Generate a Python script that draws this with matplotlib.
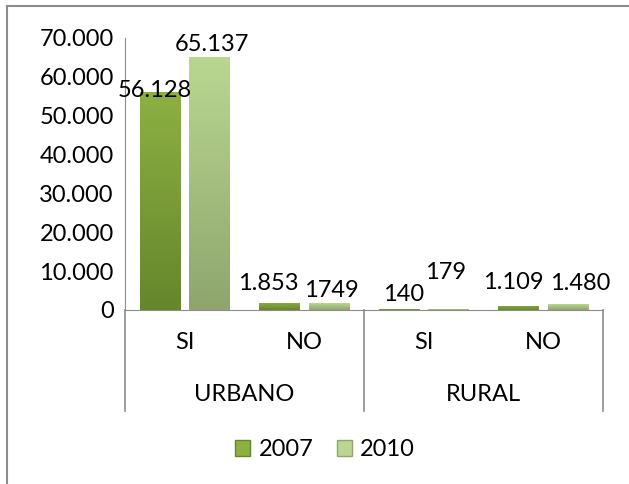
import numpy as np
import matplotlib.pyplot as plt
from matplotlib.patches import Patch
from matplotlib.colors import LinearSegmentedColormap

plt.rcParams["font.family"] = ["Lato", "DejaVu Sans"]

sub_labels = ["SI", "NO", "SI", "NO"]
groups = ["URBANO", "RURAL"]
years = ["2007", "2010"]
v2007 = [56128, 1853, 140, 1109]
v2010 = [65137, 1749, 179, 1480]
lab2007 = ["56.128", "1.853", "140", "1.109"]
lab2010 = ["65.137", "1749", "179", "1.480"]
yticks = [0, 10000, 20000, 30000, 40000, 50000, 60000, 70000]
ytick_labels = ["0", "10.000", "20.000", "30.000", "40.000", "50.000", "60.000", "70.000"]

# label offsets in pixels (Excel put them oddly)
off2007 = [(-5, 1), (-11, 19), (5, 15), (-5, 23)]
off2010 = [(2, 12), (2, 13), (-3, 37), (12, 21)]

c2007 = ("#8db043", "#66862c")
c2010 = ("#bad791", "#8ea66d")
fs = 17

fig = plt.figure(figsize=(6.29, 4.84), dpi=100)
ax = fig.add_axes([125 / 629, 1 - 310 / 484, 478 / 629, 272 / 484])

x = np.arange(len(sub_labels))
w = 0.34
d = 0.207


def grad_bars(xs, vals, cols):
    bars = ax.bar(xs, vals, width=w, color=cols[0], zorder=2)
    cmap = LinearSegmentedColormap.from_list("g", [cols[1], cols[0]])
    for b in bars:
        x0, y0 = b.get_x(), b.get_y()
        im = ax.imshow(np.linspace(0, 1, 100).reshape(-1, 1), cmap=cmap,
                       extent=[x0, x0 + b.get_width(), y0, y0 + b.get_height()],
                       origin="lower", aspect="auto", zorder=2.5)
        im.set_clip_path(b)
        b.set_facecolor("none")
    return bars


grad_bars(x - d, v2007, c2007)
grad_bars(x + d, v2010, c2010)

for xi, v, t, o in zip(x - d, v2007, lab2007, off2007):
    ax.annotate(t, (xi, v), xytext=o, textcoords="offset pixels",
                ha="center", va="center", fontsize=fs)
for xi, v, t, o in zip(x + d, v2010, lab2010, off2010):
    ax.annotate(t, (xi, v), xytext=o, textcoords="offset pixels",
                ha="center", va="center", fontsize=fs)

ax.set_xlim(-0.5, 3.5)
ax.set_ylim(0, 70000)
ax.set_yticks(yticks)
ax.set_yticklabels(ytick_labels, fontsize=fs)
ax.tick_params(axis="y", length=0, pad=8)
ax.set_xticks([])
for s in ["top", "right"]:
    ax.spines[s].set_visible(False)
ax.spines["left"].set_color("#8c8c8c")
ax.spines["bottom"].set_color("#8c8c8c")

# category labels
for xi, t in zip(x, sub_labels):
    ax.text(xi, -0.121, t, transform=ax.get_xaxis_transform(),
            ha="center", va="center", fontsize=fs)
for gi, g in enumerate(groups):
    ax.text(2 * gi + 0.5, -0.312, g, transform=ax.get_xaxis_transform(),
            ha="center", va="center", fontsize=fs)
for xs in [-0.5, 1.5, 3.5]:
    ax.plot([xs, xs], [0, -0.37], transform=ax.get_xaxis_transform(),
            color="#8c8c8c", lw=1.2, clip_on=False)

handles = [Patch(facecolor=c2007[0], edgecolor=c2007[1]),
           Patch(facecolor=c2010[0], edgecolor=c2010[1])]
fig.legend(handles, years, loc="center", bbox_to_anchor=(325 / 629, 1 - 450 / 484),
           ncol=2, frameon=False, fontsize=fs, handlelength=0.65, handleheight=0.65,
           handletextpad=0.35, columnspacing=1.0)

# chart border
fig.add_artist(plt.Line2D([7 / 629, 7 / 629], [0, 1 - 6 / 484], color="#8c8c8c", lw=1.5))
fig.add_artist(plt.Line2D([7 / 629, 1], [1 - 6 / 484, 1 - 6 / 484], color="#8c8c8c", lw=1.5))

fig.savefig("out.png", dpi=100)
